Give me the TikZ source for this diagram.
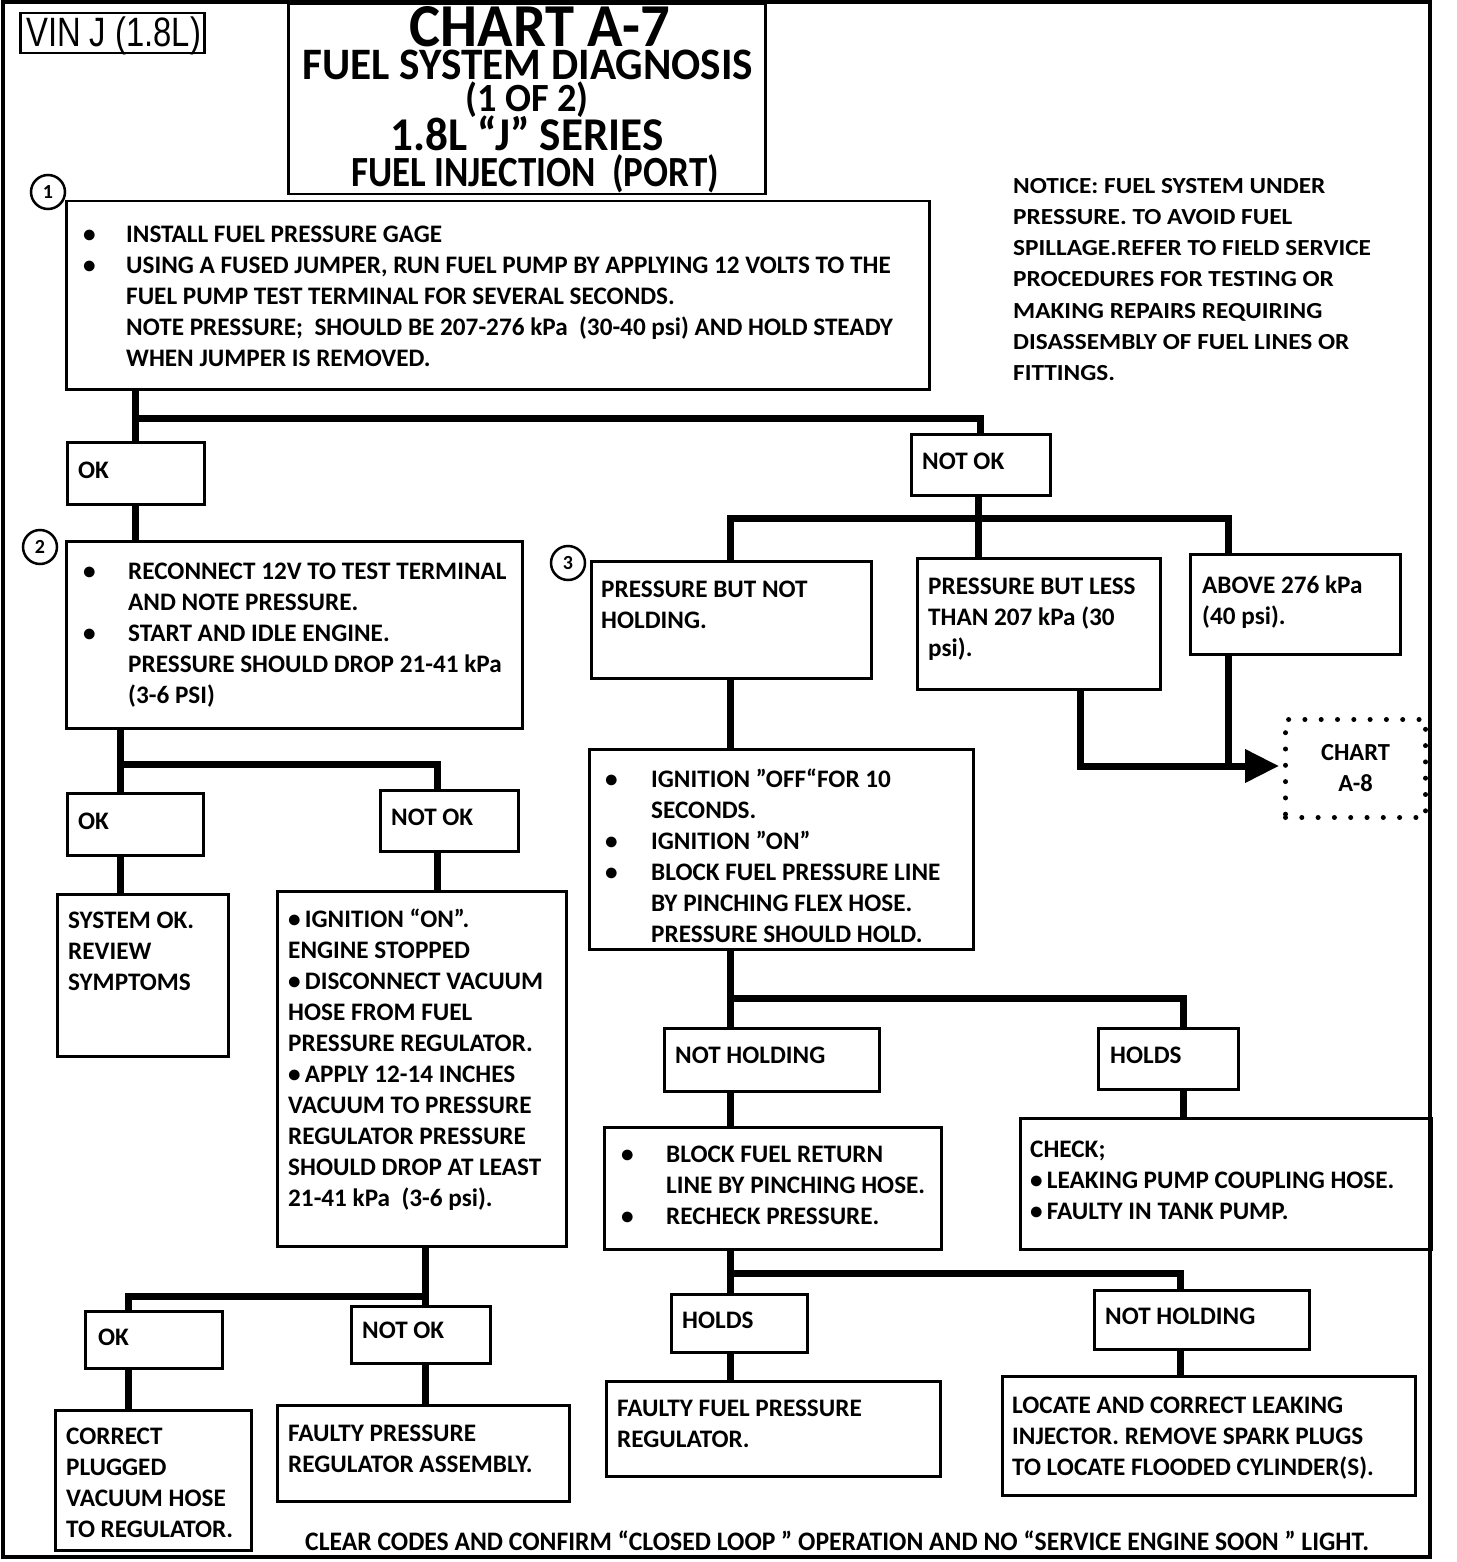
\documentclass[tikz,border=0pt]{standalone}
\usepackage{fontspec}
\setmainfont{Carlito}
\newfontfamily\condfont[FakeStretch=0.86]{Carlito}
\newfontfamily\condA[FakeStretch=0.96]{Carlito}
\newfontfamily\widefont[FakeStretch=1.1]{Carlito}
\newfontfamily\vinfont[FakeStretch=0.8]{Liberation Sans}
\usetikzlibrary{arrows.meta}
\newcommand\bodyf{\fontsize{25.2}{31}\selectfont\bfseries}
\newcommand\noticef{\widefont\fontsize{23}{31.2}\selectfont\bfseries}
\newcommand\bul[1]{\makebox[#1pt][l]{\textbullet}}
\newcommand\ind[1]{\hspace*{#1pt}}
\newcommand\bx[5]{\pgfmathsetmacro\bw{#4-#2}\pgfmathsetmacro\bh{#5-#3}%
  \node[box,minimum width=\bw pt,minimum height=\bh pt] (#1) at (#2,#3) {};}
\begin{document}
\begin{tikzpicture}[x=1pt,y=-1pt,
  box/.style={draw,line width=2.5pt,inner sep=0pt,anchor=north west},
  txt/.style={inner sep=0pt,anchor=north west,align=left,font=\bodyf},
  conn/.style={line width=7pt},
  num/.style={circle,draw,line width=2.5pt,minimum size=34pt,inner sep=0pt,font=\fontsize{20}{20}\selectfont\bfseries},
  ttl/.style={inner sep=0pt,anchor=base}]
\useasboundingbox[fill=white] (0,0) rectangle (1456,1562);
% outer frame
\draw[line width=4pt] (3,2) rectangle (1430,1557);
% VIN and title
\bx{vin}{19}{12}{203}{52}
\node[inner sep=0pt,anchor=base west,font=\vinfont\fontsize{41}{41}\selectfont] (vint) at (26,47) {VIN J (1.8L)};
\bx{title}{287}{3}{764}{193}
\node[ttl,font=\condA\fontsize{61}{61}\selectfont\bfseries] (t1) at (540,47) {CHART A-7};
\node[ttl,font=\condA\fontsize{45}{45}\selectfont\bfseries] (t2) at (528,80) {FUEL SYSTEM DIAGNOSIS};
\node[ttl,font=\condA\fontsize{40}{40}\selectfont\bfseries] (t3) at (527,112) {(1 OF 2)};
\node[ttl,font=\condA\fontsize{47}{47}\selectfont\bfseries] (t4) at (527,151) {1.8L “J” SERIES};
\node[ttl,font=\condfont\fontsize{43}{43}\selectfont\bfseries] (t5) at (535,187) {FUEL INJECTION\ \ (PORT)};
% notice
\node[txt,font=\noticef] (notice) at (1013,178) {NOTICE: FUEL SYSTEM UNDER\\PRESSURE. TO AVOID FUEL\\SPILLAGE.REFER TO FIELD SERVICE\\PROCEDURES FOR TESTING OR\\MAKING REPAIRS REQUIRING\\DISASSEMBLY OF FUEL LINES OR\\FITTINGS.};
% boxes
\bx{b1}{65}{200}{928}{388}
\bx{okA}{66}{441}{203}{503}
\bx{nokA}{910}{433}{1049}{494}
\bx{b2}{65}{540}{521}{727}
\bx{b3a}{590}{560}{870}{677}
\bx{b3b}{916}{557}{1159}{688}
\bx{b3c}{1189}{553}{1399}{653}
\node[anchor=north west,inner sep=0pt,minimum width=140pt,minimum height=98pt,draw,line width=5pt,line cap=round,dash pattern=on 0pt off 16.3pt] (chart) at (1283,717) {};
\bx{b4}{588}{748}{972}{948}
\bx{nh1}{663}{1027}{878}{1090}
\bx{h1}{1097}{1027}{1237}{1088}
\bx{b5}{603}{1126}{940}{1248}
\bx{chk}{1019}{1117}{1430}{1248}
\bx{h2}{670}{1293}{806}{1351}
\bx{nh2}{1093}{1289}{1308}{1348}
\bx{freg}{605}{1380}{939}{1475}
\bx{loc}{1001}{1375}{1414}{1494}
\bx{okB}{66}{792}{202}{854}
\bx{nokB}{379}{789}{517}{850}
\bx{sys}{56}{893}{227}{1055}
\bx{big}{276}{890}{565}{1245}
\bx{okC}{84}{1310}{221}{1367}
\bx{nokC}{350}{1305}{489}{1362}
\bx{corr}{54}{1409}{250}{1549}
\bx{fpr}{276}{1404}{568}{1500}
% numbers
\node[num] (n1) at (48,192) {1};
\node[num] (n2) at (40,547) {2};
\node[num] (n3) at (568,563) {3};
% texts
\node[txt] (b1t) at (83,226) {\bul{43}INSTALL FUEL PRESSURE GAGE\\\bul{43}USING A FUSED JUMPER, RUN FUEL PUMP BY APPLYING 12 VOLTS TO THE\\\ind{43}FUEL PUMP TEST TERMINAL FOR SEVERAL SECONDS.\\\ind{43}NOTE PRESSURE;\ \ SHOULD BE 207-276 kPa\ \ (30-40 psi) AND HOLD STEADY\\\ind{43}WHEN JUMPER IS REMOVED.};
\node[txt] (okAt) at (78,462) {OK};
\node[txt] (nokAt) at (922,453) {NOT OK};
\node[txt] (b2t) at (83,563) {\bul{45}RECONNECT 12V TO TEST TERMINAL\\\ind{45}AND NOTE PRESSURE.\\\bul{45}START AND IDLE ENGINE.\\\ind{45}PRESSURE SHOULD DROP 21-41 kPa\\\ind{45}(3-6 PSI)};
\node[txt] (b3at) at (601,581) {PRESSURE BUT NOT\\HOLDING.};
\node[txt] (b3bt) at (928,578) {PRESSURE BUT LESS\\THAN 207 kPa (30\\psi).};
\node[txt] (b3ct) at (1202,576) {ABOVE 276 kPa\\(40 psi).};
\node[inner sep=0pt,align=center,font=\fontsize{24.5}{31}\selectfont\bfseries] (chartt) at (chart.center) {CHART\\A-8};
\node[txt] (b4t) at (605,769) {\bul{46}IGNITION ”OFF“FOR 10\\\ind{46}SECONDS.\\\bul{46}IGNITION ”ON”\\\bul{46}BLOCK FUEL PRESSURE LINE\\\ind{46}BY PINCHING FLEX HOSE.\\\ind{46}PRESSURE SHOULD HOLD.};
\node[txt] (nh1t) at (675,1047) {NOT HOLDING};
\node[txt] (h1t) at (1110,1047) {HOLDS};
\node[txt] (b5t) at (621,1146) {\bul{45}BLOCK FUEL RETURN\\\ind{45}LINE BY PINCHING HOSE.\\\bul{45}RECHECK PRESSURE.};
\node[txt] (chkt) at (1030,1141) {CHECK;\\\textbullet\,LEAKING PUMP COUPLING HOSE.\\\textbullet\,FAULTY IN TANK PUMP.};
\node[txt] (h2t) at (682,1312) {HOLDS};
\node[txt] (nh2t) at (1105,1308) {NOT HOLDING};
\node[txt] (fregt) at (617,1400) {FAULTY FUEL PRESSURE\\REGULATOR.};
\node[txt] (loct) at (1012,1397) {LOCATE AND CORRECT LEAKING\\INJECTOR. REMOVE SPARK PLUGS\\TO LOCATE FLOODED CYLINDER(S).};
\node[txt] (okBt) at (78,813) {OK};
\node[txt] (nokBt) at (391,809) {NOT OK};
\node[txt] (syst) at (68,912) {SYSTEM OK.\\REVIEW\\SYMPTOMS};
\node[txt] (bigt) at (288,909) {\textbullet\,IGNITION “ON”.\\ENGINE STOPPED\\\textbullet\,DISCONNECT VACUUM\\HOSE FROM FUEL\\PRESSURE REGULATOR.\\\textbullet\,APPLY 12-14 INCHES\\VACUUM TO PRESSURE\\REGULATOR PRESSURE\\SHOULD DROP AT LEAST\\21-41 kPa\ \ (3-6 psi).};
\node[txt] (okCt) at (98,1329) {OK};
\node[txt] (nokCt) at (362,1322) {NOT OK};
\node[txt] (corrt) at (66,1428) {CORRECT\\PLUGGED\\VACUUM HOSE\\TO REGULATOR.};
\node[txt] (fprt) at (288,1425) {FAULTY PRESSURE\\REGULATOR ASSEMBLY.};
\node[inner sep=0pt,anchor=base west,font=\condA\fontsize{26.7}{27}\selectfont\bfseries] (foot) at (305,1550) {CLEAR CODES AND CONFIRM “CLOSED LOOP ” OPERATION AND NO “SERVICE ENGINE SOON ” LIGHT.};
% connector coordinates
\coordinate (j1) at (135,418);
\coordinate (j1r) at (980,418);
\coordinate (j3l) at (730,518);
\coordinate (j3m) at (978,518);
\coordinate (j3r) at (1228,518);
\coordinate (j4l) at (1080,766);
\coordinate (j4r) at (1228,766);
\coordinate (j5l) at (730,998);
\coordinate (j5r) at (1183,998);
\coordinate (j6l) at (730,1273);
\coordinate (j6r) at (1180,1273);
\coordinate (j2l) at (120,764);
\coordinate (j2r) at (437,764);
\coordinate (j7l) at (128,1296);
\coordinate (j7r) at (425,1296);
% connectors
\draw[conn] (j1 |- b1.south) -- (j1 |- okA.north);
\draw[conn] (j1) -- (j1r) -- (j1r |- nokA.north);
\draw[conn] (j1 |- okA.south) -- (j1 |- b2.north);
\draw[conn] (j3m |- nokA.south) -- (j3m |- b3b.north);
\draw[conn] (j3l |- b3a.north) -- (j3l) -- (j3r) -- (j3r |- b3c.north);
\draw[conn] (j4r |- b3c.south) -- (j4r);
\draw[conn,-{Triangle[length=34pt,width=32pt]}] (j4l |- b3b.south) -- (j4l) -- ([xshift=-4pt]j4l -| chart.west);
\draw[conn] (j3l |- b3a.south) -- (j3l |- b4.north);
\draw[conn] (j5l |- b4.south) -- (j5l |- nh1.north);
\draw[conn] (j5l) -- (j5r) -- (j5r |- h1.north);
\draw[conn] (j5l |- nh1.south) -- (j5l |- b5.north);
\draw[conn] (j5r |- h1.south) -- (j5r |- chk.north);
\draw[conn] (j6l |- b5.south) -- (j6l |- h2.north);
\draw[conn] (j6l) -- (j6r) -- (j6r |- nh2.north);
\draw[conn] (j6l |- h2.south) -- (j6l |- freg.north);
\draw[conn] (j6r |- nh2.south) -- (j6r |- loc.north);
\draw[conn] (j2l |- b2.south) -- (j2l |- okB.north);
\draw[conn] (j2l) -- (j2r) -- (j2r |- nokB.north);
\draw[conn] (j2l |- okB.south) -- (j2l |- sys.north);
\draw[conn] (j2r |- nokB.south) -- (j2r |- big.north);
\draw[conn] (j7r |- big.south) -- (j7r |- nokC.north);
\draw[conn] (j7r) -- (j7l) -- (j7l |- okC.north);
\draw[conn] (j7l |- okC.south) -- (j7l |- corr.north);
\draw[conn] (j7r |- nokC.south) -- (j7r |- fpr.north);
\end{tikzpicture}
\end{document}
